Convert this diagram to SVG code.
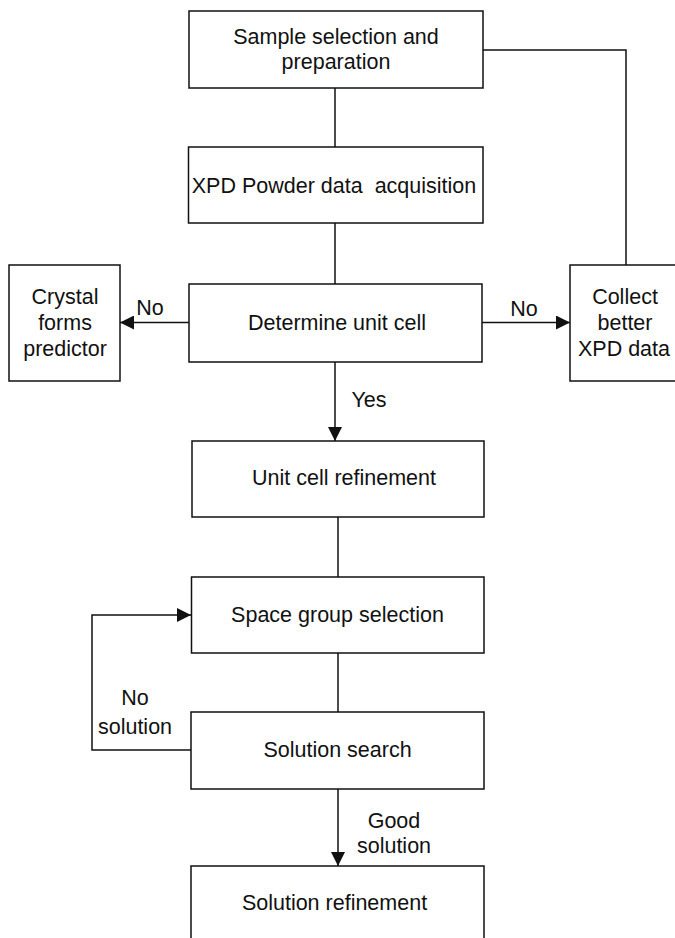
<svg xmlns="http://www.w3.org/2000/svg" width="675" height="938" viewBox="0 0 675 938">
  <defs>
    <marker id="arrow" viewBox="0 0 14 14" refX="14" refY="7" markerWidth="14" markerHeight="14" markerUnits="userSpaceOnUse" orient="auto">
      <path d="M0,0 L14,7 L0,14 Z" fill="#111"/>
    </marker>
    <style>
      .box { fill: #fff; stroke: #111; stroke-width: 1.5; }
      .link { fill: none; stroke: #111; stroke-width: 1.5; }
      text { font-family: "Liberation Sans", Arial, Helvetica, sans-serif; font-size: 21.5px; fill: #111; text-anchor: middle; }
    </style>
  </defs>
  <rect width="675" height="938" fill="#fff"/>

  <g id="connectors">
    <path class="link" d="M335,88 V147"/>
    <path class="link" d="M483,50 H626 V265"/>
    <path class="link" d="M335,223 V284"/>
    <path class="link" d="M189,322.5 H120" marker-end="url(#arrow)"/>
    <path class="link" d="M482,322.5 H570" marker-end="url(#arrow)"/>
    <path class="link" d="M335,362 V441" marker-end="url(#arrow)"/>
    <path class="link" d="M338,517 V577"/>
    <path class="link" d="M338,653 V712"/>
    <path class="link" d="M191,750 H92 V615 H191" marker-end="url(#arrow)"/>
    <path class="link" d="M338,789 V866" marker-end="url(#arrow)"/>
    <text x="150" y="315">No</text>
    <text x="524" y="316">No</text>
    <text x="369" y="407">Yes</text>
    <text x="135" y="705">No</text>
    <text x="135" y="734">solution</text>
    <text x="394" y="828">Good</text>
    <text x="394" y="853">solution</text>
  </g>

  <g id="sample-selection">
    <rect class="box" x="189" y="11" width="294" height="77"/>
    <text x="336" y="44">Sample selection and</text>
    <text x="336" y="68.5">preparation</text>
  </g>

  <g id="xpd-acquisition">
    <rect class="box" x="188.5" y="147" width="294.5" height="76"/>
    <text x="334" y="193" xml:space="preserve">XPD Powder data  acquisition</text>
  </g>

  <g id="determine-unit-cell">
    <rect class="box" x="189" y="284" width="293" height="78"/>
    <text x="337" y="330">Determine unit cell</text>
  </g>

  <g id="crystal-forms-predictor">
    <rect class="box" x="9" y="265" width="111" height="116"/>
    <text x="65" y="304">Crystal</text>
    <text x="65" y="330">forms</text>
    <text x="65" y="356">predictor</text>
  </g>

  <g id="collect-better-data">
    <rect class="box" x="570" y="265" width="112" height="116"/>
    <text x="625" y="304">Collect</text>
    <text x="625" y="330">better</text>
    <text x="624" y="356">XPD data</text>
  </g>

  <g id="unit-cell-refinement">
    <rect class="box" x="192" y="441" width="292" height="76"/>
    <text x="344" y="485">Unit cell refinement</text>
  </g>

  <g id="space-group-selection">
    <rect class="box" x="191.5" y="577" width="292.5" height="76"/>
    <text x="337.5" y="622">Space group selection</text>
  </g>

  <g id="solution-search">
    <rect class="box" x="191" y="712" width="293" height="77"/>
    <text x="337.5" y="757">Solution search</text>
  </g>

  <g id="solution-refinement">
    <rect class="box" x="191" y="866" width="293" height="80"/>
    <text x="334.5" y="910">Solution refinement</text>
  </g>
</svg>
